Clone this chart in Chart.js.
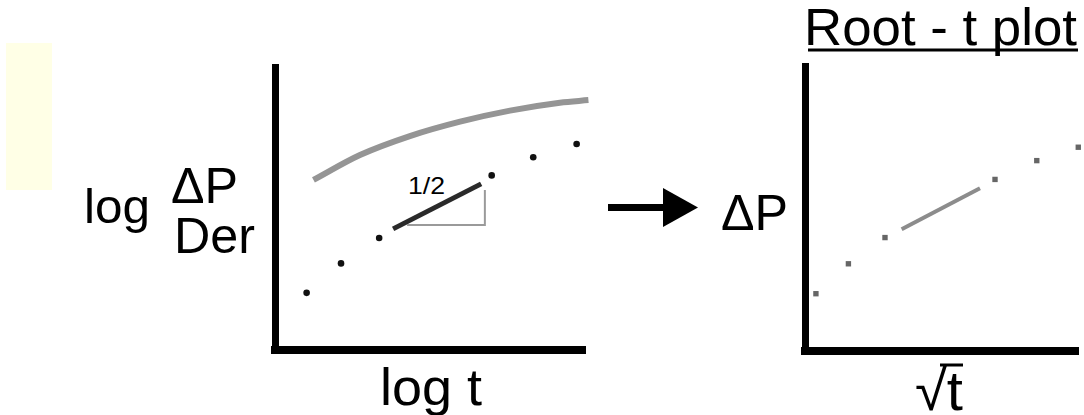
<!DOCTYPE html>
<html lang="en">
<head>
<meta charset="UTF-8">
<title>Root - t plot</title>
<script src="https://cdn.jsdelivr.net/npm/chart.js"></script>
<style>
  html, body { margin:0; padding:0; background:#fff; }
  body { width:1084px; height:415px; position:relative; overflow:hidden; }
  #overlay { position:absolute; left:0; top:0; }
  .box { position:absolute; }
  #leftBox { left:265px; top:57px; width:330px; height:303px; }
  #rightBox { left:795px; top:56px; width:289px; height:305px; }
</style>
</head>
<body>

<!-- labels, arrow, yellow note -->
<svg id="overlay" width="1084" height="415" font-family="Liberation Sans, Arial, sans-serif">
  <rect x="6" y="43" width="46" height="147" fill="#FFFFE6"/>
  <text x="84" y="223" font-size="49" textLength="66" lengthAdjust="spacingAndGlyphs">log</text>
  <text x="171" y="203" font-size="50" textLength="67" lengthAdjust="spacingAndGlyphs">ΔP</text>
  <text x="174" y="253" font-size="50" textLength="81" lengthAdjust="spacingAndGlyphs">Der</text>
  <text x="380" y="405" font-size="52" textLength="102" lengthAdjust="spacingAndGlyphs">log t</text>
  <text x="408" y="194" font-size="24" textLength="37" lengthAdjust="spacingAndGlyphs">1/2</text>
  <rect x="608" y="204" width="57" height="7" fill="#000"/>
  <polygon points="663,188 698,207.5 663,227" fill="#000"/>
  <text x="721" y="230" font-size="50" textLength="67" lengthAdjust="spacingAndGlyphs">ΔP</text>
  <text x="804" y="45" font-size="52" textLength="273" lengthAdjust="spacingAndGlyphs">Root - t plot</text>
  <line x1="808" y1="50" x2="1078" y2="50" stroke="#000" stroke-width="3"/>
  <text x="915" y="410" font-size="56" textLength="48" lengthAdjust="spacingAndGlyphs">√t</text>
  <line x1="940" y1="365" x2="963" y2="365" stroke="#000" stroke-width="3"/>
</svg>

<div class="box" id="leftBox"><canvas id="leftChart"></canvas></div>
<div class="box" id="rightBox"><canvas id="rightChart"></canvas></div>

<script>
// log-log plot: derivative dots, pressure curve, half-slope segment
const leftDotX = [1.02, 2.13, 3.36, 6.99, 8.33, 9.73];
const leftDotY = [2.02, 3.06, 3.96, 6.17, 6.81, 7.28];
const curveX = [1.24, 2.74, 4.35, 5.97, 7.58, 9.19, 10.11];
const curveY = [6.01, 6.89, 7.56, 8.07, 8.46, 8.74, 8.83];
const slopeX = [3.81, 6.65];
const slopeY = [4.28, 5.87];
const triX = [4.26, 6.77, 6.77];
const triY = [4.42, 4.42, 5.65];

// root-t plot
const rightDotX = [0.40, 1.59, 2.93, 6.96, 8.49, 10.01];
const rightDotY = [2.01, 3.06, 3.98, 6.02, 6.68, 7.15];
const lineX = [3.54, 6.41];
const lineY = [4.27, 5.71];

function pts(xs, ys){ return xs.map((x,i)=>({x:x, y:ys[i]})); }

function axis(w){
    return {
        type:"linear", min:0, max:10,
        ticks:{display:false},
        grid:{display:false, drawTicks:false},
        border:{display:true, color:"#000", width:w}
    };
}

function baseOptions(pad){
    return {
        responsive:true, maintainAspectRatio:false, animation:false,
        devicePixelRatio:1,
        layout:{padding:pad},
        plugins:{legend:{display:false}, tooltip:{enabled:false}},
        scales:{ x:axis(8), y:axis(7) }
    };
}

new Chart(document.getElementById("leftChart"),{
    type:"scatter",
    data:{ datasets:[
        {data:pts(curveX,curveY), showLine:true, borderColor:"#959595", borderWidth:6,
         pointRadius:0, cubicInterpolationMode:"monotone", clip:false},
        {data:pts(triX,triY), showLine:true, borderColor:"#9a9a9a", borderWidth:2,
         pointRadius:0, clip:false},
        {data:pts(slopeX,slopeY), showLine:true, borderColor:"#2a2a2a", borderWidth:5,
         pointRadius:0, clip:false},
        {data:pts(leftDotX,leftDotY), showLine:false, pointRadius:3.3,
         pointBackgroundColor:"#111", pointBorderWidth:0, clip:false}
    ]},
    options:baseOptions({left:10, top:10, right:10, bottom:10})
});

new Chart(document.getElementById("rightChart"),{
    type:"scatter",
    data:{ datasets:[
        {data:pts(lineX,lineY), showLine:true, borderColor:"#8c8c8c", borderWidth:4,
         pointRadius:0, clip:false},
        {data:pts(rightDotX,rightDotY), showLine:false, pointStyle:"rect", pointRadius:3.8,
         pointBackgroundColor:"#666", pointBorderWidth:0, clip:false}
    ]},
    options:baseOptions({left:10, top:10, right:6, bottom:10})
});
</script>

</body>
</html>
